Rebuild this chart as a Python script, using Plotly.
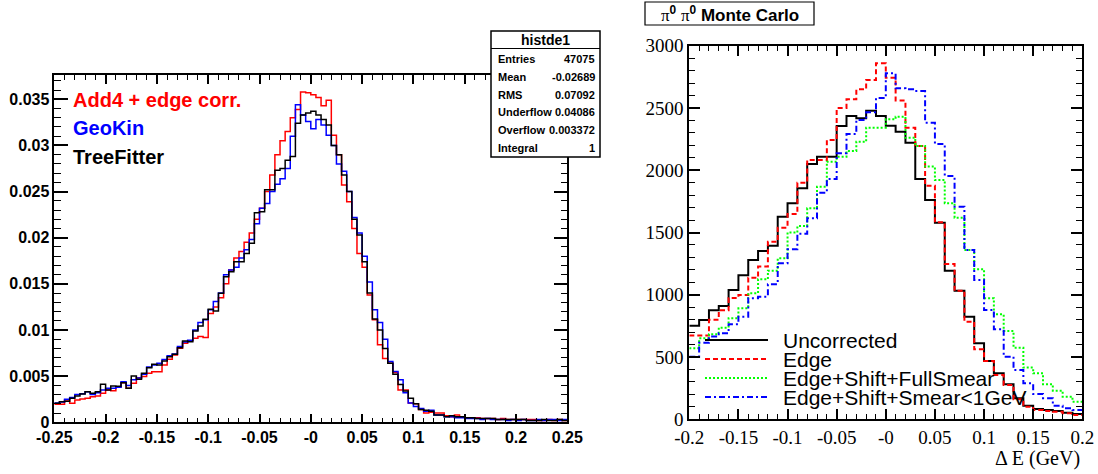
import numpy as np
import plotly.graph_objects as go

W, H = 1098, 474

# ---------------- Left panel data (bins of 0.005 from -0.25 to 0.25) ----------------
left_lo, left_hi, left_nb = -0.25, 0.25, 100
add4_edge = [
    .00195, .00195, .00242, .00206, .00242, .00253, .00260, .00278, .00285, .00314,
    .00350, .00343, .00379, .00429, .00368, .00422, .00484, .00495, .00531, .00549,
    .00549, .00621, .00682, .00729, .00802, .00856, .00884, .00910, .00930, .00920,
    .01180, .01250, .01350, .01500, .0165, .0178, .0185, .0195, .0205, .0220,
    .0232, .0250, .0268, .0290, .0305, .0315, .0330, .0339, .0358, .0357,
    .0355, .0352, .0343, .0349, .0311, .0290, .0257, .0239, .0210, .0183,
    .0168, .0138, .0111, .0084, .0069, .0064, .0054, .0035, .0035, .0021,
    .0020, .0014, .0010, .0011, .0010, .0010, .0007, .0006, .0008, .0006,
    .0005, .0005, .0005, .0004, .0004, .0004, .0003, .0004, .0003, .0003,
    .0003, .0003, .0003, .0003, .0002, .0002, .0003, .0002, .0003, .0002,
]
geokin = [
    .0021, .0022, .0025, .0027, .0030, .0031, .0033, .0030, .0032, .0035,
    .0037, .0037, .0038, .0044, .0040, .0046, .0048, .0052, .0060, .0062,
    .0064, .0068, .0072, .0074, .0082, .0087, .0089, .0100, .0108, .0111,
    .0122, .0131, .0140, .0160, .0165, .0168, .0178, .0187, .0198, .0215,
    .0232, .0237, .0250, .0258, .0264, .0275, .0310, .0344, .0333, .0326,
    .0318, .0328, .0322, .0311, .0300, .0280, .0272, .0250, .0222, .0205,
    .0180, .0152, .0122, .0108, .0090, .0066, .0055, .0046, .0032, .0021,
    .0017, .0015, .0012, .0013, .0008, .0008, .0006, .0006, .0005, .0005,
    .0004, .0004, .0004, .0003, .0004, .0003, .0003, .0003, .0002, .0003,
    .0002, .0003, .0002, .0002, .0003, .0002, .0003, .0003, .0002, .0003,
]
treefitter = [
    .00206, .00223, .00227, .00260, .00285, .00307, .00332, .00314, .00332, .00412,
    .00350, .00393, .00390, .00429, .00368, .00502, .00466, .00531, .00592, .00628,
    .00621, .00664, .00711, .00737, .00809, .00881, .00874, .00989, .01043, .01116,
    .01224, .01206, .01398, .01578, .0163, .0174, .0174, .0183, .0194, .0227,
    .0228, .0252, .0252, .0273, .0275, .0284, .0288, .0324, .0333, .0335,
    .0337, .0333, .0328, .0322, .0300, .0290, .0268, .0250, .0220, .0203,
    .0174, .0140, .0112, .0100, .0080, .0064, .0052, .0041, .0034, .0026,
    .0020, .0014, .0013, .0012, .0008, .0008, .0006, .0007, .0006, .0006,
    .0005, .0005, .0004, .0004, .0004, .0004, .0003, .0003, .0003, .0003,
    .0003, .0003, .0002, .0002, .0002, .0003, .0002, .0002, .0003, .0002,
]
left_names = ["Add4 + edge corr.", "GeoKin", "TreeFitter"]
left_colors = ["#ff0000", "#0000ff", "#000000"]
left_xticks = [-0.25, -0.2, -0.15, -0.1, -0.05, 0, 0.05, 0.1, 0.15, 0.2, 0.25]
left_xtext = ["-0.25", "-0.2", "-0.15", "-0.1", "-0.05", "-0", "0.05", "0.1", "0.15", "0.2", "0.25"]
left_yticks = [0, 0.005, 0.01, 0.015, 0.02, 0.025, 0.03, 0.035]
left_ytext = ["0", "0.005", "0.01", "0.015", "0.02", "0.025", "0.03", "0.035"]

stats_title = "histde1"
stats_labels = ["Entries", "Mean", "RMS", "Underflow", "Overflow", "Integral"]
stats_values = ["47075", "-0.02689", "0.07092", "0.04086", "0.003372", "1"]

# ---------------- Right panel data (bins of 0.01 from -0.2 to 0.2) ----------------
right_lo, right_hi, right_nb = -0.2, 0.2, 40
uncorrected = [752, 797, 875, 910, 1038, 1156, 1279, 1351, 1394, 1627,
               1735, 1855, 2050, 2109, 2109, 2355, 2436, 2417, 2477, 2436,
               2358, 2310, 2221, 1930, 1761, 1579, 1193, 1033, 824, 610,
               468, 369, 281, 169, 109, 83, 75, 67, 53, 43]
edge = [672, 672, 799, 875, 974, 998, 1137, 1226, 1426, 1539,
        1649, 1900, 2082, 2082, 2243, 2500, 2570, 2650, 2725, 2859,
        2743, 2559, 2342, 2195, 1876, 1582, 1247, 1033, 784, 562,
        468, 356, 275, 160, 101, 75, 67, 61, 48, 35]
edge_shift_full = [570, 650, 683, 736, 811, 891, 1012, 1124, 1193, 1293,
                   1500, 1552, 1694, 1868, 2069, 2109, 2155, 2229, 2342, 2342,
                   2409, 2430, 2261, 2195, 2029, 1922, 1735, 1619, 1360, 1205,
                   972, 843, 709, 575, 415, 369, 281, 230, 182, 141]
edge_shift_lt1 = [503, 615, 665, 690, 763, 824, 972, 985, 1084, 1253,
                  1365, 1490, 1614, 1820, 1930, 2136, 2291, 2404, 2465, 2580,
                  2778, 2658, 2650, 2636, 2382, 2211, 1954, 1707, 1360, 1119,
                  878, 723, 503, 396, 289, 203, 169, 109, 88, 75]
right_names = ["Uncorrected", "Edge", "Edge+Shift+FullSmear", "Edge+Shift+Smear<1GeV"]
right_colors = ["#000000", "#ff0000", "#00ff00", "#0000ff"]
right_dashes = ["solid", "5px,3px", "2px,2px", "6px,3px,2px,3px"]
right_xticks = [-0.2, -0.15, -0.1, -0.05, 0, 0.05, 0.1, 0.15, 0.2]
right_xtext = ["-0.2", "-0.15", "-0.1", "-0.05", "-0", "0.05", "0.1", "0.15", "0.2"]
right_yticks = [0, 500, 1000, 1500, 2000, 2500, 3000]
right_ytext = ["0", "500", "1000", "1500", "2000", "2500", "3000"]


def px(x):
    """window pixel x -> paper coordinate"""
    return x / W


def py(y):
    """window pixel y -> paper coordinate"""
    return 1 - y / H


def step_xy(lo, hi, nb, vals):
    edges = np.linspace(lo, hi, nb + 1)
    return np.append(edges[:-1], edges[-1]), np.append(vals, vals[-1])


fig = go.Figure()

for vals, name, col in zip([add4_edge, geokin, treefitter], left_names, left_colors):
    x, y = step_xy(left_lo, left_hi, left_nb, vals)
    fig.add_trace(go.Scatter(x=x, y=y, mode="lines", line=dict(shape="hv", color=col, width=1.5),
                             name=name, xaxis="x", yaxis="y", showlegend=False))

for vals, name, col, dash in zip([uncorrected, edge, edge_shift_full, edge_shift_lt1],
                                 right_names, right_colors, right_dashes):
    x, y = step_xy(right_lo, right_hi, right_nb, vals)
    fig.add_trace(go.Scatter(x=x, y=y, mode="lines", line=dict(shape="hv", color=col, width=2, dash=dash),
                             name=name, xaxis="x2", yaxis="y2", showlegend=False))

bold_sans = dict(family="Liberation Sans", size=16, color="black", weight="bold")
serif = dict(family="Liberation Serif", size=19, color="black")

common = dict(showgrid=False, zeroline=False, showline=True, linecolor="black", automargin=False,
              mirror="allticks", ticks="inside", tickcolor="black", tickmode="array")

fig.update_layout(
    width=W, height=H, margin=dict(l=0, r=0, t=0, b=0, autoexpand=False),
    paper_bgcolor="white", plot_bgcolor="white", showlegend=False,
    xaxis=dict(domain=[px(54.3), px(567.3)], range=[left_lo, left_hi], anchor="y",
               tickvals=left_xticks, ticktext=left_xtext, ticklen=9, tickwidth=1.5, linewidth=1.5,
               tickfont=bold_sans,
               minor=dict(tickmode="array", tickvals=list(np.round(np.arange(-0.25, 0.2501, 0.01), 3)),
                          ticklen=5, ticks="inside", tickcolor="black", tickwidth=1),
               **common),
    yaxis=dict(domain=[py(422.3), py(75)], range=[0, 0.03763], anchor="x",
               tickvals=left_yticks, ticktext=left_ytext, ticklen=14, tickwidth=1.5, linewidth=1.5,
               tickfont=bold_sans,
               minor=dict(tickmode="array", tickvals=list(np.round(np.arange(0, 0.0376, 0.001), 4)),
                          ticklen=7, ticks="inside", tickcolor="black", tickwidth=1),
               **common),
    xaxis2=dict(domain=[px(689.3), px(1082.3)], range=[right_lo, right_hi], anchor="y2",
                tickvals=right_xticks, ticktext=right_xtext, ticklen=10, tickwidth=1.5, linewidth=2,
                tickfont=serif,
                minor=dict(tickmode="array", tickvals=list(np.round(np.arange(-0.2, 0.2001, 0.01), 3)),
                           ticklen=5, ticks="inside", tickcolor="black", tickwidth=1),
                **common),
    yaxis2=dict(domain=[py(419.3), py(45.7)], range=[0, 3000], anchor="x2",
                tickvals=right_yticks, ticktext=right_ytext, ticklen=11, tickwidth=1.5, linewidth=2,
                tickfont=serif,
                minor=dict(tickmode="array", tickvals=list(range(0, 3001, 100)),
                           ticklen=6, ticks="inside", tickcolor="black", tickwidth=1),
                **common),
)

shapes = []
ann = []

# left-panel text labels
for i, (name, col) in enumerate(zip(left_names, left_colors)):
    ann.append(dict(x=px(71), y=py(100 + 28.5 * i), xref="paper", yref="paper", xanchor="left",
                    yanchor="middle", text=name, showarrow=False,
                    font=dict(family="Liberation Sans", size=20, color=col, weight="bold")))

# stats box
bx0, bx1, by0, by1 = 491, 600, 31, 157
shapes.append(dict(type="rect", xref="paper", yref="paper", x0=px(bx0), x1=px(bx1), y0=py(by1), y1=py(by0),
                   line=dict(color="black", width=1.5), fillcolor="white", layer="above"))
shapes.append(dict(type="line", xref="paper", yref="paper", x0=px(bx0), x1=px(bx1), y0=py(48.5), y1=py(48.5),
                   line=dict(color="black", width=1.2)))
ann.append(dict(x=px((bx0 + bx1) / 2), y=py(39.5), xref="paper", yref="paper", text=stats_title,
                showarrow=False, xanchor="center", yanchor="middle",
                font=dict(family="Liberation Sans", size=14, color="black", weight="bold")))
for i, (lab, val) in enumerate(zip(stats_labels, stats_values)):
    yy = py(59 + 17.8 * i)
    ann.append(dict(x=px(496), y=yy, xref="paper", yref="paper", text=lab, showarrow=False,
                    xanchor="left", yanchor="middle",
                    font=dict(family="Liberation Sans", size=11, color="black", weight="bold")))
    ann.append(dict(x=px(597), y=yy, xref="paper", yref="paper", text=val, showarrow=False,
                    xanchor="right", yanchor="middle",
                    font=dict(family="Liberation Sans", size=11, color="black", weight="bold")))

# right title box
shapes.append(dict(type="rect", xref="paper", yref="paper", x0=px(645), x1=px(814), y0=py(25), y1=py(2),
                   line=dict(color="black", width=1.2), fillcolor="white"))
ann.append(dict(x=px(729.5), y=py(13.5), xref="paper", yref="paper", showarrow=False,
                xanchor="center", yanchor="middle",
                text="<span style='font-family:Liberation Serif;font-weight:normal'>π</span><sup>0</sup> "
                     "<span style='font-family:Liberation Serif;font-weight:normal'>π</span><sup>0</sup> Monte Carlo",
                font=dict(family="Liberation Sans", size=17, color="black", weight="bold")))

# right legend (manual, ROOT-like)
for i, (name, col, dash) in enumerate(zip(right_names, right_colors, right_dashes)):
    yy = 340 + 19 * i
    shapes.append(dict(type="line", xref="paper", yref="paper", x0=px(705), x1=px(768), y0=py(yy), y1=py(yy),
                       line=dict(color=col, width=2, dash=dash)))
    ann.append(dict(x=px(781), y=py(yy), xref="paper", yref="paper", text=name.replace("<", "&lt;"),
                    showarrow=False, xanchor="left", yanchor="middle",
                    font=dict(family="Liberation Sans", size=21, color="black")))

# right x-axis title
ann.append(dict(x=px(1082), y=py(458), xref="paper", yref="paper", text="Δ E (GeV)", showarrow=False,
                xanchor="right", yanchor="middle", font=dict(family="Liberation Serif", size=20, color="black")))

fig.update_layout(shapes=shapes, annotations=ann)
# remove the default 8px page margin so the figure fills the window exactly; hide the mode bar
fig.write_html("out.html", config={"displayModeBar": False},
               post_script="document.body.style.margin='0px';")
